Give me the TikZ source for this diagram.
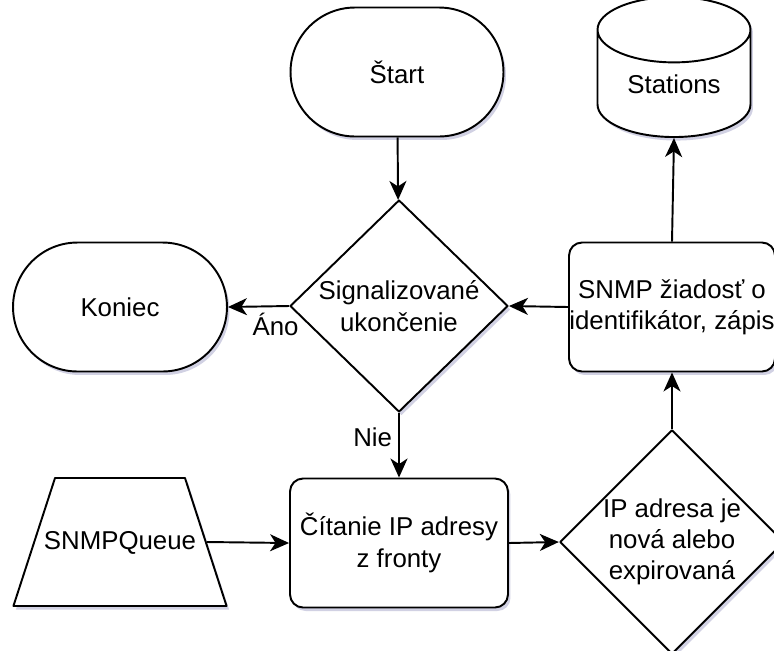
\documentclass[tikz,border=0pt]{standalone}
\usepackage{fontspec}
\setmainfont{Liberation Sans}
\usetikzlibrary{shapes.geometric,shapes.misc,arrows.meta,shadows}
\tikzset{
	box/.style={draw, fill=white, line width=1.1pt, align=center, inner sep=0pt,
		drop shadow={opacity=.18, fill=blue!40!black, shadow xshift=.05cm, shadow yshift=-.07cm}},
	term/.style={box, rounded rectangle, minimum width=4.26cm, minimum height=2.58cm},
	proc/.style={box, rounded corners=.26cm, minimum width=4.3cm, minimum height=2.58cm},
	dec/.style={box, diamond, minimum width=4.3cm, minimum height=4.24cm},
	lbl/.style={inner sep=.12cm}
}
\begin{document}
\begin{tikzpicture}[x=.02cm, y=-.02cm, font=\fontsize{14.7pt}{17.8pt}\selectfont, line join=round, >={Stealth[length=.38cm, width=.34cm, inset=.11cm]}]
	\useasboundingbox (0,0) rectangle (774,650);
	% shapes
	\node[term] (start) at (397,72) {Štart};
	\node[box, cylinder, shape border rotate=90, aspect=.7, minimum width=3.06cm, minimum height=2.8cm, anchor=south] (stations) at (674,138) {Stations};
	\node[term, minimum width=4.28cm] (koniec) at (120,307) {Koniec};
	\node[dec, minimum width=4.36cm] (signal) at (399,306) {Signalizované\\ukončenie};
	\node[proc, minimum width=4.12cm] (snmp) at (672,307) {SNMP žiadosť o\\identifikátor, zápis};
	\node[proc, minimum width=4.36cm] (citanie) at (399,543) {Čítanie IP adresy\\z fronty};
	\node[box, trapezium, trapezium angle=72, inner ysep=1.03cm, text height=.4cm, text depth=.1cm] (queue) at (120,542) {\makebox[2.6cm]{SNMPQueue}};
	\node[dec, minimum width=4.14cm, minimum height=4.22cm] (novaip) at (672,542) {IP adresa je\\nová alebo\\expirovaná};
	% arrows
	\draw[->, line width=1.1pt] (start) -- (signal);
	\draw[->, line width=1.1pt] (signal.west) -- (koniec.east) node[lbl, pos=.22, below] (ano) {Áno};
	\draw[->, line width=1.1pt] (snmp.west) -- (signal.east);
	\draw[->, line width=1.1pt] (signal.south) -- (citanie.north) node[lbl, pos=.38, left] (nie) {Nie};
	\draw[->, line width=1.1pt] (queue.east) -- (citanie.west);
	\draw[->, line width=1.1pt] (citanie.east) -- (novaip.west);
	\draw[->, line width=1.1pt] (novaip.north) -- (snmp.south);
	\draw[->, line width=1.1pt] (snmp.north) -- (stations.south);
\end{tikzpicture}
\end{document}
